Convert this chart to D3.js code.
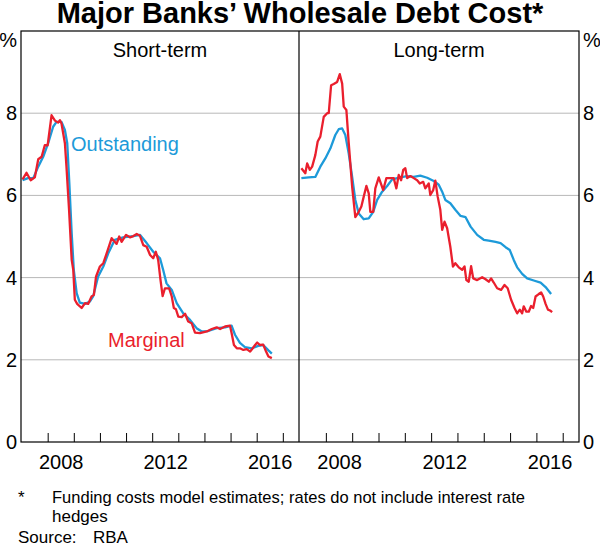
<!DOCTYPE html>
<html>
<head>
<meta charset="utf-8">
<script src="https://cdn.jsdelivr.net/npm/d3@7"></script>
<style>
  body { margin: 0; background: #fff; }
  svg { display: block; font-family: "Liberation Sans", Arial, sans-serif; }
</style>
</head>
<body>
<svg id="chart" width="600" height="547"></svg>
<script>
// Data: [decimal year, per cent]
const stOutstanding = [
  [2007.02, 6.37], [2007.23, 6.42], [2007.43, 6.42], [2007.62, 6.70], [2007.81, 6.94],
  [2008.00, 7.27], [2008.19, 7.67], [2008.32, 7.79], [2008.51, 7.79], [2008.64, 7.59],
  [2008.73, 7.27], [2008.81, 6.29], [2008.90, 5.08], [2008.98, 4.19], [2009.09, 3.62],
  [2009.21, 3.39], [2009.41, 3.36], [2009.60, 3.42], [2009.72, 3.54], [2009.91, 4.02],
  [2010.11, 4.27], [2010.30, 4.59], [2010.55, 4.92], [2010.87, 4.98], [2011.26, 5.01],
  [2011.51, 5.04], [2011.77, 4.84], [2012.02, 4.63], [2012.28, 4.47], [2012.40, 4.19],
  [2012.53, 3.86], [2012.73, 3.70], [2012.92, 3.38], [2013.17, 3.13], [2013.43, 2.97],
  [2013.68, 2.77], [2013.88, 2.69], [2014.13, 2.70], [2014.45, 2.77], [2014.77, 2.79],
  [2015.02, 2.83], [2015.15, 2.61], [2015.34, 2.41], [2015.53, 2.31], [2015.79, 2.28],
  [2016.04, 2.34], [2016.23, 2.36], [2016.43, 2.23], [2016.56, 2.15]
];

const stMarginal = [
  [2007.02, 6.39], [2007.17, 6.55], [2007.33, 6.37], [2007.49, 6.44], [2007.62, 6.88],
  [2007.75, 6.94], [2007.87, 7.22], [2007.98, 7.22], [2008.13, 7.95], [2008.26, 7.82],
  [2008.38, 7.77], [2008.45, 7.83], [2008.51, 7.75], [2008.64, 7.27], [2008.70, 6.70],
  [2008.80, 5.64], [2008.90, 4.43], [2008.96, 4.19], [2009.02, 3.46], [2009.11, 3.36],
  [2009.28, 3.26], [2009.41, 3.38], [2009.53, 3.36], [2009.66, 3.54], [2009.75, 3.58],
  [2009.83, 4.02], [2009.98, 4.27], [2010.11, 4.35], [2010.26, 4.63], [2010.43, 4.96],
  [2010.62, 4.82], [2010.72, 5.00], [2010.81, 4.87], [2010.98, 5.04], [2011.13, 4.98],
  [2011.26, 5.01], [2011.39, 5.06], [2011.51, 5.02], [2011.64, 4.79], [2011.77, 4.75],
  [2011.90, 4.55], [2012.02, 4.47], [2012.12, 4.63], [2012.21, 4.43], [2012.30, 3.94],
  [2012.38, 3.55], [2012.47, 3.74], [2012.63, 3.74], [2012.73, 3.54], [2012.81, 3.26],
  [2012.89, 3.23], [2012.98, 3.05], [2013.11, 3.04], [2013.24, 3.12], [2013.36, 2.93],
  [2013.49, 2.89], [2013.62, 2.66], [2013.81, 2.65], [2014.07, 2.69], [2014.26, 2.75],
  [2014.45, 2.79], [2014.58, 2.75], [2014.77, 2.81], [2014.96, 2.83], [2015.02, 2.65],
  [2015.11, 2.36], [2015.22, 2.28], [2015.34, 2.28], [2015.47, 2.24], [2015.60, 2.26],
  [2015.73, 2.20], [2015.83, 2.28], [2015.92, 2.36], [2016.00, 2.42], [2016.11, 2.36],
  [2016.23, 2.37], [2016.34, 2.20], [2016.43, 2.08], [2016.56, 2.04]
];

const ltOutstanding = [
  [2007.05, 6.42], [2007.33, 6.44], [2007.58, 6.45], [2007.77, 6.70], [2007.96, 6.90],
  [2008.15, 7.14], [2008.34, 7.47], [2008.47, 7.61], [2008.60, 7.63], [2008.72, 7.47],
  [2008.85, 7.02], [2008.98, 6.45], [2009.10, 5.89], [2009.23, 5.56], [2009.42, 5.42],
  [2009.61, 5.44], [2009.78, 5.60], [2009.93, 5.89], [2010.12, 6.09], [2010.31, 6.23],
  [2010.50, 6.39], [2010.81, 6.44], [2011.07, 6.47], [2011.32, 6.45], [2011.57, 6.48],
  [2011.83, 6.43], [2012.08, 6.35], [2012.27, 6.26], [2012.40, 6.09], [2012.52, 5.89],
  [2012.71, 5.81], [2012.90, 5.65], [2013.10, 5.50], [2013.29, 5.47], [2013.48, 5.24],
  [2013.73, 5.04], [2013.98, 4.92], [2014.17, 4.90], [2014.43, 4.87], [2014.62, 4.84],
  [2014.81, 4.74], [2014.97, 4.67], [2015.12, 4.43], [2015.25, 4.25], [2015.44, 4.09],
  [2015.63, 3.98], [2015.88, 3.93], [2016.14, 3.88], [2016.33, 3.77], [2016.54, 3.60]
];

const ltMarginal = [
  [2007.05, 6.66], [2007.20, 6.54], [2007.27, 6.78], [2007.37, 6.62], [2007.46, 6.70],
  [2007.58, 6.98], [2007.67, 7.31], [2007.77, 7.43], [2007.90, 7.91], [2008.03, 8.00],
  [2008.09, 8.00], [2008.18, 8.68], [2008.28, 8.71], [2008.41, 8.76], [2008.51, 8.95],
  [2008.60, 8.72], [2008.66, 8.16], [2008.76, 8.08], [2008.85, 7.27], [2008.98, 6.21],
  [2009.10, 5.47], [2009.23, 5.60], [2009.33, 5.73], [2009.42, 5.97], [2009.52, 6.23],
  [2009.61, 6.05], [2009.67, 5.60], [2009.78, 5.60], [2009.86, 6.17], [2009.99, 6.44],
  [2010.16, 6.13], [2010.28, 6.42], [2010.43, 6.42], [2010.56, 6.42], [2010.66, 6.17],
  [2010.75, 6.50], [2010.84, 6.37], [2010.92, 6.62], [2011.00, 6.66], [2011.07, 6.42],
  [2011.19, 6.47], [2011.32, 6.42], [2011.45, 6.37], [2011.55, 6.29], [2011.68, 6.33],
  [2011.76, 6.17], [2011.89, 6.29], [2011.95, 6.01], [2012.06, 6.13], [2012.14, 6.36],
  [2012.23, 5.97], [2012.33, 5.65], [2012.40, 5.16], [2012.49, 5.36], [2012.59, 5.20],
  [2012.71, 4.75], [2012.81, 4.27], [2012.90, 4.35], [2013.03, 4.25], [2013.16, 4.19],
  [2013.25, 4.27], [2013.32, 3.94], [2013.41, 3.90], [2013.50, 4.28], [2013.58, 3.98],
  [2013.73, 3.94], [2013.92, 4.01], [2014.05, 3.96], [2014.17, 3.90], [2014.26, 3.98],
  [2014.36, 3.88], [2014.49, 3.74], [2014.64, 3.70], [2014.77, 3.82], [2014.89, 3.74],
  [2015.02, 3.46], [2015.15, 3.26], [2015.25, 3.13], [2015.35, 3.22], [2015.44, 3.13],
  [2015.50, 3.30], [2015.60, 3.17], [2015.69, 3.17], [2015.78, 3.31], [2015.86, 3.26],
  [2015.95, 3.54], [2016.07, 3.60], [2016.16, 3.64], [2016.24, 3.54], [2016.33, 3.36],
  [2016.42, 3.22], [2016.50, 3.20], [2016.58, 3.16]
];

const panelTitles = ['Short-term', 'Long-term'];
const yTicks = [0, 2, 4, 6, 8];
const yearTicks = [2008, 2009, 2010, 2011, 2012, 2013, 2014, 2015, 2016, 2017];
const yearLabels = [2008, 2012, 2016];
const footnote = ['Funding costs model estimates; rates do not include interest rate', 'hedges'];

const blue = '#1d9ad9';
const red = '#ea1f2d';
const gridColor = '#b8b8b8';

const svg = d3.select('#chart');

const plotTop = 31, plotBottom = 442;
const plotLeft = 21, plotMid = 299, plotRight = 579;

const yScale = d3.scaleLinear().domain([0, 10]).range([plotBottom, plotTop]);

const panels = [
  { title: panelTitles[0], x0: plotLeft, x1: plotMid, series: [stOutstanding, stMarginal] },
  { title: panelTitles[1], x0: plotMid, x1: plotRight, series: [ltOutstanding, ltMarginal] }
];

// Step 1: title
svg.append('text')
  .attr('x', 300)
  .attr('y', 23)
  .attr('text-anchor', 'middle')
  .style('font-size', '29px')
  .style('font-weight', 'bold')
  .text('Major Banks’ Wholesale Debt Cost*');

// Step 2: panels
panels.forEach(p => {
  const xScale = d3.scaleLinear().domain([2006.96, 2017.6]).range([p.x0, p.x1]);
  const g = svg.append('g').attr('class', 'panel');

  // gridlines
  g.selectAll('line.grid')
    .data(yTicks.filter(d => d > 0))
    .join('line')
    .attr('class', 'grid')
    .attr('x1', p.x0)
    .attr('x2', p.x1)
    .attr('y1', d => yScale(d))
    .attr('y2', d => yScale(d))
    .attr('stroke', gridColor)
    .attr('stroke-width', 1);

  // year ticks pointing up from the bottom edge
  g.selectAll('line.tick')
    .data(yearTicks)
    .join('line')
    .attr('class', 'tick')
    .attr('x1', d => xScale(d))
    .attr('x2', d => xScale(d))
    .attr('y1', plotBottom)
    .attr('y2', plotBottom - 9)
    .attr('stroke', '#000')
    .attr('stroke-width', 1);

  g.selectAll('text.year')
    .data(yearLabels)
    .join('text')
    .attr('class', 'year')
    .attr('x', d => xScale(d + 0.5))
    .attr('y', 469)
    .attr('text-anchor', 'middle')
    .style('font-size', '20px')
    .text(d => d);

  // lines: outstanding first, marginal on top
  const line = d3.line()
    .x(d => xScale(d[0]))
    .y(d => yScale(d[1]));

  g.selectAll('path.series')
    .data(p.series)
    .join('path')
    .attr('class', 'series')
    .attr('d', line)
    .attr('fill', 'none')
    .attr('stroke', (d, i) => i === 0 ? blue : red)
    .attr('stroke-width', 2.3)
    .attr('stroke-linejoin', 'round');

  g.append('text')
    .attr('x', (p.x0 + p.x1) / 2)
    .attr('y', 57)
    .attr('text-anchor', 'middle')
    .style('font-size', '20px')
    .text(p.title);
});

// Step 3: frame and divider
svg.append('rect')
  .attr('x', plotLeft)
  .attr('y', plotTop)
  .attr('width', plotRight - plotLeft)
  .attr('height', plotBottom - plotTop)
  .attr('fill', 'none')
  .attr('stroke', '#000')
  .attr('stroke-width', 1.2);

svg.append('line')
  .attr('x1', plotMid).attr('x2', plotMid)
  .attr('y1', plotTop).attr('y2', plotBottom)
  .attr('stroke', '#000')
  .attr('stroke-width', 1.2);

// Step 4: y labels on both sides
[{ x: 17, anchor: 'end' }, { x: 583, anchor: 'start' }].forEach(side => {
  svg.append('g')
    .selectAll('text')
    .data(yTicks)
    .join('text')
    .attr('x', side.x)
    .attr('y', d => yScale(d))
    .attr('dy', '0.35em')
    .attr('text-anchor', side.anchor)
    .style('font-size', '20px')
    .text(d => d);

  svg.append('text')
    .attr('x', side.x)
    .attr('y', 47)
    .attr('text-anchor', side.anchor)
    .style('font-size', '20px')
    .text('%');
});

// Step 5: series labels
svg.append('text')
  .attr('x', 71)
  .attr('y', 151)
  .attr('fill', blue)
  .style('font-size', '20px')
  .text('Outstanding');

svg.append('text')
  .attr('x', 108)
  .attr('y', 347)
  .attr('fill', red)
  .style('font-size', '20px')
  .text('Marginal');

// Step 6: footnotes
const notes = svg.append('g').style('font-size', '17px');
notes.append('text').attr('x', 18).attr('y', 503).text('*');
notes.selectAll('text.fn')
  .data(footnote)
  .join('text')
  .attr('class', 'fn')
  .attr('x', 52)
  .attr('y', (d, i) => 502.5 + i * 19.5)
  .attr('textLength', (d, i) => i === 0 ? 473 : null)
  .attr('lengthAdjust', 'spacingAndGlyphs')
  .text(d => d);
notes.append('text').attr('x', 18).attr('y', 543).text('Source:');
notes.append('text').attr('x', 93).attr('y', 543).text('RBA');
</script>
</body>
</html>
